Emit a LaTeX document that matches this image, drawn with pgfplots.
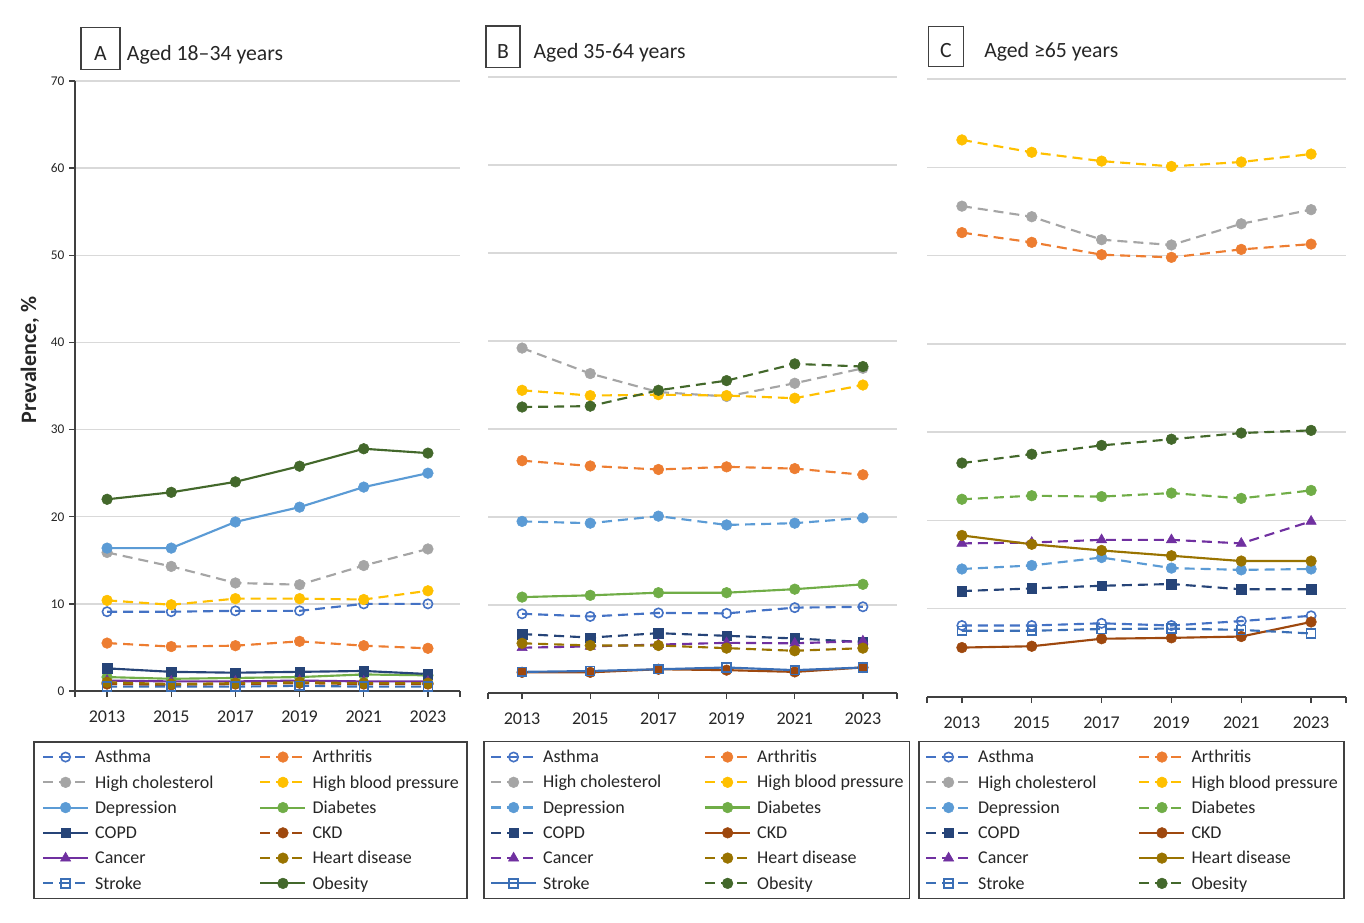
\documentclass[border=0pt]{standalone}
\usepackage{fontspec}
\setmainfont{Carlito}
\usepackage{pgfplots}
\usepackage{pgfplotstable}
\pgfplotsset{compat=1.18}

\definecolor{casthma}{HTML}{4472C4}
\definecolor{carth}{HTML}{ED7D31}
\definecolor{cchol}{HTML}{A5A5A5}
\definecolor{chbp}{HTML}{FFC000}
\definecolor{cdep}{HTML}{5B9BD5}
\definecolor{cdiab}{HTML}{70AD47}
\definecolor{ccopd}{HTML}{264478}
\definecolor{cckd}{HTML}{9E480E}
\definecolor{ccancer}{HTML}{7030A0}
\definecolor{cheart}{HTML}{997300}
\definecolor{cstroke}{HTML}{3B6FB6}
\definecolor{cobes}{HTML}{43682B}
\definecolor{gridgray}{HTML}{D9D9D9}
\definecolor{axisgray}{HTML}{404040}

% panel A: aged 18-34
\pgfplotstableread{
year asthma arth chol hbp dep diab copd ckd cancer heart stroke obes
2013 9.1  5.5 15.9 10.4 16.4 1.6 2.6  0.8 1.2 1.0 0.5 22.0
2015 9.1  5.1 14.3 9.9  16.4 1.4 2.2  0.7 1.1 0.8 0.5 22.8
2017 9.2  5.2 12.4 10.6 19.4 1.5 2.1  0.8 1.1 0.9 0.5 24.0
2019 9.2  5.7 12.2 10.6 21.1 1.6 2.2  0.9 1.2 1.0 0.6 25.8
2021 10.0 5.2 14.4 10.5 23.4 1.9 2.3  0.8 1.1 0.9 0.5 27.8
2023 10.0 4.9 16.3 11.5 25.0 1.8 1.95 0.8 1.1 0.9 0.5 27.3
}\dataA

% panel B: aged 35-64
\pgfplotstableread{
year asthma arth chol hbp dep diab copd ckd cancer heart stroke obes
2013 9.0  26.4 39.2 34.4 19.5 10.9 6.7 2.35 5.15 5.65 2.4 32.5
2015 8.7  25.8 36.3 33.8 19.3 11.1 6.3 2.35 5.3  5.4  2.5 32.6
2017 9.1  25.4 34.2 33.9 20.1 11.4 6.8 2.7  5.5  5.4  2.7 34.4
2019 9.05 25.7 33.7 33.8 19.1 11.4 6.5 2.6  5.7  5.1  2.9 35.5
2021 9.7  25.5 35.2 33.5 19.3 11.8 6.2 2.4  5.65 4.8  2.6 37.4
2023 9.8  24.8 36.9 35.0 19.9 12.35 5.8 2.9 5.9  5.1  2.9 37.1
}\dataB

% panel C: aged 65+
\pgfplotstableread{
year asthma arth chol hbp dep diab copd ckd cancer heart stroke obes
2013 8.1  52.6 55.6 63.1 14.5 22.4 12.0 5.6  17.4 18.3 7.5  26.5
2015 8.1  51.5 54.4 61.7 14.9 22.8 12.3 5.75 17.5 17.3 7.5  27.5
2017 8.35 50.1 51.8 60.7 15.8 22.7 12.6 6.6  17.8 16.6 7.7  28.5
2019 8.1  49.8 51.2 60.1 14.6 23.1 12.8 6.7  17.8 16.0 7.75 29.2
2021 8.6  50.7 53.6 60.6 14.4 22.5 12.2 6.85 17.4 15.4 7.6  29.9
2023 9.2  51.3 55.2 61.5 14.5 23.4 12.2 8.5  19.9 15.4 7.2  30.2
}\dataC

\pgfplotsset{
  dsh/.style={dash pattern=on 7.5pt off 4.5pt},
  fmark/.style={line width=1.6pt, mark size=4pt, mark options={solid, line width=0.4pt}},
  sAsthma/.style={color=casthma, line width=1.6pt, mark=o, mark size=3.5pt, mark options={solid, line width=1.2pt}},
  sArth/.style={color=carth, fmark, mark=*},
  sChol/.style={color=cchol, fmark, mark=*},
  sHbp/.style={color=chbp, fmark, mark=*},
  sDep/.style={color=cdep, fmark, mark=*},
  sDiab/.style={color=cdiab, fmark, mark=*},
  sCopd/.style={color=ccopd, fmark, mark=square*, mark size=3.6pt},
  sCkd/.style={color=cckd, fmark, mark=*},
  sCancer/.style={color=ccancer, fmark, mark=triangle*, mark size=4.4pt},
  sHeart/.style={color=cheart, fmark, mark=*},
  sStroke/.style={color=cstroke, line width=1.6pt, mark=square, mark size=3.3pt, mark options={solid, line width=1.2pt}},
  sObes/.style={color=cobes, fmark, mark=*},
  panel/.style={
    scale only axis, anchor=south west, clip=false,
    xmin=2012, xmax=2024, ymin=0, ymax=70,
    xtick={2013,2015,...,2023},
    extra x ticks={2012,2024}, extra x tick labels={},
    ytick={0,10,...,70},
    ymajorgrids, grid style={draw=gridgray, line width=1.1pt},
    axis x line*=bottom, axis y line*=left,
    every outer x axis line/.append style={-},
    every outer y axis line/.append style={-},
    axis line style={-, draw=axisgray, line width=1.1pt},
    tick align=outside, major tick length=4.5pt,
    tick style={draw=axisgray, line width=1.1pt},
    /pgf/number format/assume math mode=true,
    x tick label style={font=\fontsize{13.5}{15}\selectfont, text=black!85, yshift=-7pt,
      /pgf/number format/1000 sep={}},
    y tick label style={font=\fontsize{10}{12}\selectfont, text=black!85},
    legend columns=2, legend cell align=left,
    legend image code/.code={\draw[mark repeat=2,mark phase=2]
      plot coordinates {(0pt,0pt)(16.875pt,0pt)(33.75pt,0pt)};},
    legend style={anchor=north west, draw=axisgray, line width=1.1pt, fill=white,
      inner ysep=2pt, row sep=0pt, text=black!85,
      font=\fontsize{13.5}{15}\selectfont,
      nodes={inner sep=0pt, text height=13.75pt, text depth=5.2pt},
      /tikz/every odd column/.append style={column sep=4.5pt}},
    legend entries={Asthma, Arthritis, High cholesterol, High blood pressure,
      Depression, Diabetes, COPD, CKD, Cancer, Heart disease, Stroke, Obesity},
  },
  novaxis/.style={y axis line style={draw=none}, ytick style={draw=none}, yticklabels={}},
}

\begin{document}
\begin{tikzpicture}
\useasboundingbox (0,0) rectangle (1023pt,-691.5pt);

% ---- A
\begin{axis}[panel, at={(56.25pt,-518.25pt)}, width=288.75pt, height=457.5pt,
  legend style={at={(-0.1083,-0.0820)}, inner xsep=6pt,
    /tikz/every even column/.append style={column sep=34.5pt}}]
\addplot[sAsthma, dsh] table[y=asthma]{\dataA};
\addplot[sArth, dsh] table[y=arth]{\dataA};
\addplot[sChol, dsh] table[y=chol]{\dataA};
\addplot[sHbp, dsh] table[y=hbp]{\dataA};
\addplot[sDep] table[y=dep]{\dataA};
\addplot[sDiab] table[y=diab]{\dataA};
\addplot[sCopd] table[y=copd]{\dataA};
\addplot[sCkd, dsh] table[y=ckd]{\dataA};
\addplot[sCancer] table[y=cancer]{\dataA};
\addplot[sHeart, dsh] table[y=heart]{\dataA};
\addplot[sStroke, dsh] table[y=stroke]{\dataA};
\addplot[sObes] table[y=obes]{\dataA};
\end{axis}

% ---- B
\begin{axis}[panel, novaxis, at={(366pt,-519.75pt)}, width=306.75pt, height=462pt,
  legend style={at={(-0.0115,-0.0779)}, inner xsep=4.5pt,
    /tikz/every even column/.append style={column sep=32pt}}]
\addplot[sAsthma, dsh] table[y=asthma]{\dataB};
\addplot[sArth, dsh] table[y=arth]{\dataB};
\addplot[sChol, dsh] table[y=chol]{\dataB};
\addplot[sHbp, dsh] table[y=hbp]{\dataB};
\addplot[sDep, dsh] table[y=dep]{\dataB};
\addplot[sDiab] table[y=diab]{\dataB};
\addplot[sCopd, dsh] table[y=copd]{\dataB};
\addplot[sCkd] table[y=ckd]{\dataB};
\addplot[sCancer, dsh] table[y=cancer]{\dataB};
\addplot[sHeart, dsh] table[y=heart]{\dataB};
\addplot[sStroke] table[y=stroke]{\dataB};
\addplot[sObes, dsh] table[y=obes]{\dataB};
\end{axis}

% ---- C
\begin{axis}[panel, novaxis, at={(695.25pt,-522.75pt)}, width=314.25pt, height=463.5pt,
  legend style={at={(-0.0208,-0.0712)}, inner xsep=4.5pt,
    /tikz/every even column/.append style={column sep=31.5pt}}]
\addplot[sAsthma, dsh] table[y=asthma]{\dataC};
\addplot[sArth, dsh] table[y=arth]{\dataC};
\addplot[sChol, dsh] table[y=chol]{\dataC};
\addplot[sHbp, dsh] table[y=hbp]{\dataC};
\addplot[sDep, dsh] table[y=dep]{\dataC};
\addplot[sDiab, dsh] table[y=diab]{\dataC};
\addplot[sCopd, dsh] table[y=copd]{\dataC};
\addplot[sCkd] table[y=ckd]{\dataC};
\addplot[sCancer, dsh] table[y=cancer]{\dataC};
\addplot[sHeart] table[y=heart]{\dataC};
\addplot[sStroke, dsh] table[y=stroke]{\dataC};
\addplot[sObes, dsh] table[y=obes]{\dataC};
\end{axis}

% panel titles
\begin{scope}[every node/.style={inner sep=0pt, text=black!85, font=\fontsize{16.3}{19}\selectfont}]
\draw[draw=axisgray, line width=1.1pt] (60.75pt,-20.5pt) rectangle (90pt,-52pt);
\node[anchor=base] at (75.4pt,-45pt) {A};
\node[anchor=base west] at (95pt,-45pt) {Aged 18–34 years};
\draw[draw=axisgray, line width=1.1pt] (364.5pt,-19.5pt) rectangle (390pt,-50.5pt);
\node[anchor=base] at (377.25pt,-43.7pt) {B};
\node[anchor=base west] at (400pt,-43.7pt) {Aged 35-64 years};
\draw[draw=axisgray, line width=1.1pt] (696.2pt,-20pt) rectangle (722.5pt,-50pt);
\node[anchor=base] at (709.4pt,-43pt) {C};
\node[anchor=base west] at (738pt,-43pt) {Aged ≥65 years};
\end{scope}

\node[rotate=90, text=black!85, font=\bfseries\fontsize{16.5}{19}\selectfont] at (22.5pt,-270pt) {Prevalence, \%};
\end{tikzpicture}
\end{document}
